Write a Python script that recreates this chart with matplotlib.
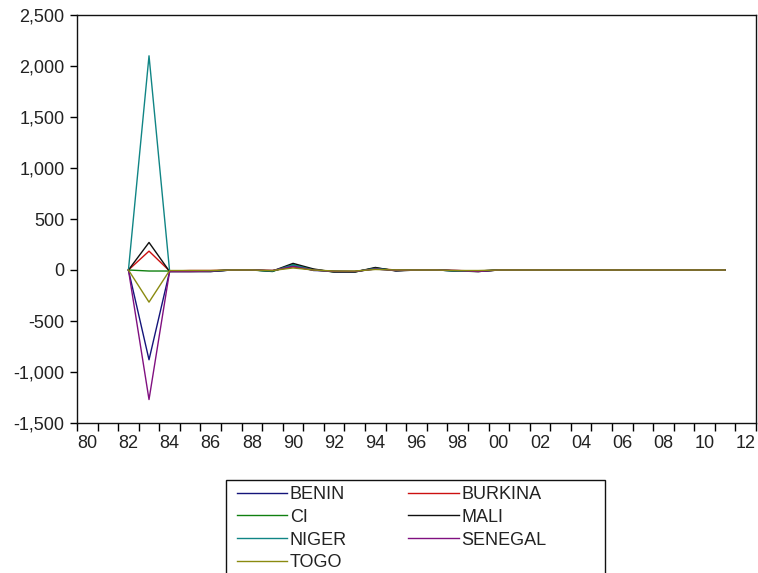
import matplotlib
matplotlib.use("Agg")
import matplotlib.pyplot as plt
from matplotlib.patches import Rectangle
from matplotlib.ticker import FuncFormatter, FixedLocator

plt.rcParams['font.family'] = ['Liberation Sans', 'DejaVu Sans']

# donnees (1982-2011)
annees = list(range(1982, 2012))

benin = [0, -880, -15, -15, -15, 0, 0, -10, 40, -5, -10, -15, 10, -5, 0, 0, -10, -10,
         0, 0, 0, 0, 0, 0, 0, 0, 0, 0, 0, 0]
burkina = [0, 185, -10, -5, -5, 0, 0, -5, 30, 0, -15, -15, 15, 0, 0, 0, -5, -10,
           0, 0, 0, 0, 0, 0, 0, 0, 0, 0, 0, 0]
ci = [0, -10, -10, -10, -10, 0, 0, -15, 55, 5, -20, -20, 20, -5, 0, 0, -10, -15,
      0, 0, 0, 0, 0, 0, 0, 0, 0, 0, 0, 0]
mali = [0, 270, -15, -15, -15, 0, 0, -10, 65, 10, -20, -20, 25, -10, 0, 0, -10, -15,
        0, 0, 0, 0, 0, 0, 0, 0, 0, 0, 0, 0]
niger = [0, 2100, -10, -10, -10, 0, 0, -10, 50, 0, -15, -15, 15, -5, 0, 0, -10, -10,
         0, 0, 0, 0, 0, 0, 0, 0, 0, 0, 0, 0]
senegal = [0, -1270, -15, -15, -10, 0, 0, -5, 35, 0, -15, -15, 10, -5, 0, 0, -5, -15,
           0, 0, 0, 0, 0, 0, 0, 0, 0, 0, 0, 0]
togo = [0, -315, -5, -5, -5, 0, 0, -5, 20, 0, -10, -10, 5, 0, 0, 0, -5, -5,
        0, 0, 0, 0, 0, 0, 0, 0, 0, 0, 0, 0]

series = {
    "BENIN": benin,
    "BURKINA": burkina,
    "CI": ci,
    "MALI": mali,
    "NIGER": niger,
    "SENEGAL": senegal,
    "TOGO": togo,
}

couleurs = {
    "BENIN": "#14147a",
    "BURKINA": "#cc1010",
    "CI": "#108010",
    "MALI": "#101010",
    "NIGER": "#108585",
    "SENEGAL": "#801080",
    "TOGO": "#8a8a10",
}

fig = plt.figure(figsize=(7.58, 5.73), dpi=100)
ax = fig.add_axes([77 / 758, 1 - 423 / 573, (756 - 77) / 758, (423 - 15) / 573])

# points au milieu de chaque annee (style EViews)
x = [a + 0.5 for a in annees]
lignes = {}
for nom, vals in series.items():
    lignes[nom], = ax.plot(x, vals, color=couleurs[nom], lw=1.0, label=nom)

ax.set_xlim(1980, 2013)
ax.set_ylim(-1500, 2500)

ax.set_yticks(range(-1500, 2501, 500))
ax.yaxis.set_major_formatter(FuncFormatter(lambda v, p: f"{int(v):,}"))

# traits a chaque annee, etiquettes au milieu des annees paires
ax.xaxis.set_major_locator(FixedLocator(list(range(1980, 2014))))
ax.xaxis.set_major_formatter(FuncFormatter(lambda v, p: ""))
ax.xaxis.set_minor_locator(FixedLocator([a + 0.5 for a in range(1980, 2013, 2)]))
ax.xaxis.set_minor_formatter(FuncFormatter(lambda v, p: f"{int(v) % 100:02d}"))

ax.tick_params(axis='y', direction='out', length=5, width=1, pad=4,
               labelsize=13, labelcolor='#222222')
ax.tick_params(axis='x', which='major', direction='out', length=6, width=1)
ax.tick_params(axis='x', which='minor', length=0, pad=9,
               labelsize=13, labelcolor='#222222')

for s in ax.spines.values():
    s.set_linewidth(1.0)
    s.set_color('#111111')

# legende a deux colonnes sous le graphique
ordre = ["BENIN", "CI", "NIGER", "TOGO", "BURKINA", "MALI", "SENEGAL"]
leg = fig.legend([lignes[n] for n in ordre], ordre, ncol=2, frameon=False,
                 loc='upper left', bbox_to_anchor=(237 / 758, 1 - 486 / 573),
                 bbox_transform=fig.transFigure, borderpad=0, borderaxespad=0,
                 handlelength=2.78, handletextpad=0.15, labelspacing=0.32,
                 columnspacing=3.4, fontsize=13)
for t in leg.get_texts():
    t.set_color('#222222')

cadre = Rectangle((226 / 758, 1 - 590 / 573), (605 - 226) / 758, 110 / 573,
                  transform=fig.transFigure, fill=False, lw=1.0, ec='#111111')
fig.add_artist(cadre)

plt.savefig("out.png", dpi=100)
